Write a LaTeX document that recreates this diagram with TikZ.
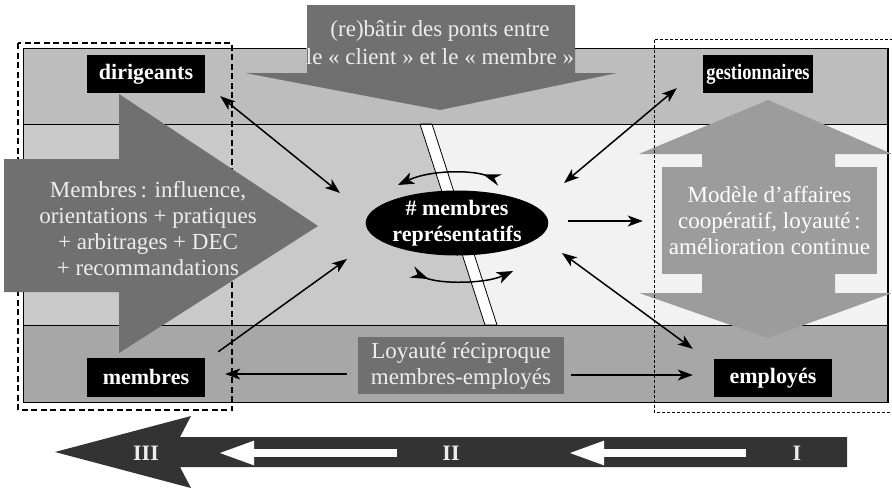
\documentclass[tikz,border=0pt]{standalone}
\usepackage{fontspec}
\setmainfont{Liberation Serif}
\usepackage{graphicx}
\usetikzlibrary{arrows.meta,shapes.geometric}

\definecolor{bandtop}{gray}{0.74}
\definecolor{midleft}{gray}{0.79}
\definecolor{midright}{gray}{0.95}
\definecolor{bandbot}{gray}{0.655}
\definecolor{callout}{gray}{0.44}
\definecolor{dblarrow}{gray}{0.61}
\definecolor{darkbar}{gray}{0.20}
\definecolor{paletext}{gray}{0.93}

\tikzset{
	tag/.style={fill=black,text=white,inner sep=0pt,minimum height=38pt,font=\fontsize{22}{24}\selectfont\bfseries},
	pale/.style={text=paletext,align=center,font=\fontsize{23}{26}\selectfont},
	link/.style={line width=1.5pt,-{Stealth[length=15pt,width=11pt,inset=4pt]}},
	twoway/.style={line width=1.5pt,{Stealth[length=15pt,width=11pt,inset=4pt]}-{Stealth[length=15pt,width=11pt,inset=4pt]}},
	swirl/.style={line width=1.5pt,{Stealth[reversed,length=18pt,width=12pt,inset=6pt]}-{Stealth[length=16pt,width=12pt,inset=4pt]}},
	stage/.style={text=paletext,font=\fontsize{22}{24}\selectfont\bfseries},
	whitearrow/.style={white,line width=8pt,-{Triangle[length=36pt,width=22pt]}}
}

\begin{document}
\begin{tikzpicture}[x=1pt,y=-1pt]
	\useasboundingbox (0,0) rectangle (892,491);

	% Draw the three bands
	\fill[bandtop] (23,48) rectangle (888,124);
	\fill[midleft] (23,124) -- (426,124) -- (491,325) -- (23,325) -- cycle;
	\fill[midright] (426,124) -- (888,124) -- (888,325) -- (491,325) -- cycle;
	\fill[bandbot] (23,325) rectangle (888,402);

	% Draw the white strip
	\filldraw[fill=white,line width=0.8pt] (420,124) -- (432,124) -- (497,325) -- (485,325) -- cycle;

	% Draw the band borders
	\draw[line width=0.8pt] (23,48) rectangle (888,402) (23,124) -- (888,124) (23,325) -- (888,325);
	\draw[line width=1.6pt] (888,48) -- (888,402);

	% Draw the left dashed frame
	\draw[line width=2pt,dash pattern=on 6pt off 3.5pt] (18,43) rectangle (232,410);

	% Draw the members arrow
	\fill[callout] (4,159) -- (119,159) -- (119,94) -- (318,226) -- (119,353) -- (119,292) -- (4,292) -- cycle;
	\node[pale] (influence) at (148,229) {Membres\,: influence,\\orientations + pratiques\\+ arbitrages + DEC\\+ recommandations};

	% Draw the bridge callout
	\fill[callout] (307,5) -- (575,5) -- (575,73) -- (617,73) -- (440,110) -- (245,73) -- (307,73) -- cycle;
	\node[pale,font=\fontsize{23}{28}\selectfont] (ponts) at (440,43) {(re)bâtir des ponts entre\\le «~client~» et le «~membre~»};

	% Draw the double arrow
	\fill[dblarrow] (768,100) -- (892,154) -- (835,154) -- (835,293) -- (892,293) -- (768,338) -- (639,293) -- (702,293) -- (702,154) -- (639,154) -- cycle;
	\node[pale,text=white,fill=dblarrow,minimum width=215pt,minimum height=107pt,inner sep=0pt] (modele) at (769.5,220.5) {Modèle d’affaires\\coopératif, loyauté\,:\\amélioration continue};

	% Draw the right dashed frame
	\draw[line width=0.8pt,dash pattern=on 3pt off 2pt] (893,39) -- (654,39) -- (654,412) -- (893,412);

	% Draw the actor tags
	\node[tag,minimum width=118pt] (dirigeants) at (146,74) {dirigeants};
	\node[tag,minimum width=110pt] (gestionnaires) at (758,74) {\scalebox{0.84}[1]{gestionnaires}};
	\node[tag,minimum width=118pt,minimum height=39pt] (membres) at (146,377) {membres};
	\node[tag,minimum width=118pt] (employes) at (773,378) {employés};

	% Draw the representative members
	\node[ellipse,fill=black,text=white,inner sep=0pt,minimum width=173pt,minimum height=65pt,align=center,font=\fontsize{22}{26}\selectfont\bfseries] (rep) at (457,223) {\#~membres\\représentatifs};

	% Draw the loyalty box
	\node[pale,fill=callout,minimum width=206pt,minimum height=57pt,inner sep=0pt] (loyaute) at (461,365.5) {Loyauté réciproque\\membres-employés};

	% Draw the links
	\draw[twoway] ([shift={(15,3)}]dirigeants.south east) -- ([shift={(-25.5,-30)}]rep.west);
	\draw[twoway] ([shift={(-26,-5)}]gestionnaires.south west) -- ([shift={(15.5,-40)}]rep.east);
	\draw[link] ([shift={(13,-5.5)}]membres.north east) -- ([shift={(-18.5,36)}]rep.west);
	\draw[twoway] ([shift={(13.5,30)}]rep.east) -- ([shift={(-21,-10)}]employes.north west);
	\draw[link] ([shift={(19.5,-2)}]rep.east) -- ([shift={(-19,0.5)}]modele.west);
	\draw[link] ([shift={(-11,8.5)}]loyaute.west) -- ([shift={(20,-3)}]membres.east);
	\draw[link] ([shift={(7,9.5)}]loyaute.east) -- ([shift={(-21,-3)}]employes.west);

	% Draw the turning arrows
	\draw[swirl] ([shift={(43,-43)}]rep.center) .. controls +(-30,-10) and +(32,-15) .. ([shift={(-59,-38)}]rep.center);
	\draw[swirl] ([shift={(-45,49)}]rep.center) .. controls +(28,12) and +(-28,13) .. ([shift={(56,48)}]rep.center);

	% Draw the stage bar
	\fill[darkbar] (55,452) -- (191,416) -- (180,437) -- (847,437) -- (847,467) -- (180,467) -- (191,488) -- cycle;
	\node[stage] (stageI) at (797,453) {I};
	\node[stage] (stageII) at (451,453) {II};
	\node[stage] (stageIII) at (146,453) {III};
	\draw[whitearrow,shorten <=51pt,shorten >=117pt] (stageI.center) -- (stageII.center);
	\draw[whitearrow,shorten <=54pt,shorten >=72pt] (stageII.center) -- (stageIII.center);
\end{tikzpicture}
\end{document}
